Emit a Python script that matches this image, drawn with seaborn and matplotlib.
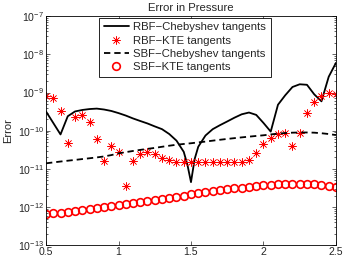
import matplotlib
matplotlib.use("Agg")
import matplotlib.pyplot as plt
import seaborn as sns
import pandas as pd
from matplotlib.ticker import LogLocator, FixedLocator, FixedFormatter

# x grid shared by markers and dashed line
x_vals = [0.50, 0.55, 0.60, 0.65, 0.70, 0.75, 0.80, 0.85, 0.90, 0.95,
          1.00, 1.05, 1.10, 1.15, 1.20, 1.25, 1.30, 1.35, 1.40, 1.45,
          1.50, 1.55, 1.60, 1.65, 1.70, 1.75, 1.80, 1.85, 1.90, 1.95,
          2.00, 2.05, 2.10, 2.15, 2.20, 2.25, 2.30, 2.35, 2.40, 2.45, 2.50]

# RBF-Chebyshev tangents (solid)
rbf_cheb_x = [0.50, 0.55, 0.60, 0.65, 0.70, 0.75, 0.80, 0.85, 0.90, 0.95,
              1.00, 1.05, 1.10, 1.15, 1.20, 1.25, 1.30, 1.35, 1.40, 1.45,
              1.475, 1.50, 1.525, 1.55, 1.60, 1.65, 1.70, 1.75, 1.80, 1.85,
              1.90, 1.95, 2.00, 2.05, 2.10, 2.15, 2.20, 2.25, 2.30, 2.35,
              2.40, 2.45, 2.50]
rbf_cheb = [3.2e-10, 1.6e-10, 8.0e-11, 2.4e-10, 3.2e-10, 3.5e-10, 3.7e-10, 3.8e-10, 3.6e-10, 3.3e-10,
            2.9e-10, 2.5e-10, 2.1e-10, 1.8e-10, 1.55e-10, 1.3e-10, 1.1e-10, 8.2e-11, 5.5e-11, 2.8e-11,
            1.3e-11, 4.5e-12, 1.8e-11, 3.8e-11, 7.5e-11, 1.1e-10, 1.4e-10, 1.75e-10, 2.2e-10, 2.7e-10,
            3.0e-10, 2.6e-10, 1.6e-10, 9.5e-11, 4.8e-10, 8.5e-10, 1.4e-9, 1.65e-9, 1.6e-9, 9.0e-10,
            5.9e-10, 2.6e-9, 6.0e-9]

# RBF-KTE tangents (asterisks)
rbf_kte = [8.1e-10, 7.4e-10, 3.2e-10, 4.7e-11, 2.3e-10, 2.6e-10, 1.7e-10, 6.0e-11, 1.6e-11, 4.0e-11,
           2.8e-11, 3.5e-12, 1.66e-11, 2.5e-11, 2.7e-11, 2.45e-11, 1.9e-11, 1.7e-11, 1.55e-11, 1.55e-11,
           1.55e-11, 1.55e-11, 1.55e-11, 1.55e-11, 1.55e-11, 1.55e-11, 1.55e-11, 1.5e-11, 1.75e-11, 2.6e-11,
           4.4e-11, 6.5e-11, 8.1e-11, 8.5e-11, 3.9e-11, 8.5e-11, 2.9e-10, 5.5e-10, 7.9e-10, 1.0e-9, 9.1e-10]

# SBF-Chebyshev tangents (dashed)
sbf_cheb = [1.40e-11, 1.48e-11, 1.56e-11, 1.64e-11, 1.72e-11, 1.81e-11, 1.90e-11, 2.00e-11, 2.12e-11, 2.30e-11,
            2.55e-11, 2.75e-11, 2.95e-11, 3.15e-11, 3.35e-11, 3.55e-11, 3.80e-11, 4.05e-11, 4.30e-11, 4.50e-11,
            4.70e-11, 4.95e-11, 5.20e-11, 5.50e-11, 5.80e-11, 6.10e-11, 6.40e-11, 6.70e-11, 7.00e-11, 7.30e-11,
            7.60e-11, 8.00e-11, 8.40e-11, 8.70e-11, 8.90e-11, 9.00e-11, 9.00e-11, 8.90e-11, 8.60e-11, 8.20e-11, 7.70e-11]

# SBF-KTE tangents (circles)
sbf_kte = [6.4e-13, 6.8e-13, 7.2e-13, 7.6e-13, 8.0e-13, 8.4e-13, 8.9e-13, 9.4e-13, 1.00e-12, 1.06e-12,
           1.13e-12, 1.20e-12, 1.27e-12, 1.34e-12, 1.42e-12, 1.50e-12, 1.60e-12, 1.72e-12, 1.85e-12, 2.00e-12,
           2.20e-12, 2.35e-12, 2.50e-12, 2.65e-12, 2.80e-12, 2.95e-12, 3.10e-12, 3.25e-12, 3.40e-12, 3.55e-12,
           3.70e-12, 3.85e-12, 3.95e-12, 4.05e-12, 4.10e-12, 4.10e-12, 4.05e-12, 3.95e-12, 3.80e-12, 3.60e-12, 3.35e-12]

x_ticks = [0.5, 1, 1.5, 2, 2.5]
x_tick_labels = ["0.5", "1", "1.5", "2", "2.5"]

sns.set_style("ticks")
plt.rcParams['font.family'] = ['Liberation Sans', 'DejaVu Sans']
plt.rcParams['mathtext.fontset'] = 'custom'
plt.rcParams['mathtext.rm'] = 'Liberation Sans'
plt.rcParams['font.size'] = 8

fig = plt.figure(figsize=(3.46, 2.62), dpi=100)
ax = fig.add_axes([0.133, 0.064, 0.838, 0.874])

df_line = pd.DataFrame({"x": rbf_cheb_x, "y": rbf_cheb})
df_pts = pd.DataFrame({"x": x_vals, "kte": rbf_kte, "sbf_cheb": sbf_cheb, "sbf_kte": sbf_kte})

sns.lineplot(data=df_line, x="x", y="y", ax=ax, color="black", linewidth=1.3,
             label="RBF\u2212Chebyshev tangents")
sns.lineplot(data=df_pts, x="x", y="kte", ax=ax, color="red", linestyle="",
             marker=(8, 2, 0), markersize=6, markeredgewidth=0.45,
             markeredgecolor="red", markerfacecolor="red",
             label="RBF\u2212KTE tangents")
sns.lineplot(data=df_pts, x="x", y="sbf_cheb", ax=ax, color="black", linewidth=1.3,
             linestyle=(0, (3.5, 2.2)), label="SBF\u2212Chebyshev tangents")
sns.lineplot(data=df_pts, x="x", y="sbf_kte", ax=ax, color="red", linestyle="",
             marker="o", markersize=5.5, markerfacecolor="none", markeredgecolor="red",
             markeredgewidth=1.2, label="SBF\u2212KTE tangents")

ax.set_yscale("log")
ax.set_xlim(0.5, 2.5)
ax.set_ylim(1e-13, 1e-7)
ax.yaxis.set_major_locator(LogLocator(base=10, numticks=10))
ax.yaxis.set_minor_locator(LogLocator(base=10, subs=range(2, 10), numticks=10))
ax.xaxis.set_major_locator(FixedLocator(x_ticks))
ax.xaxis.set_major_formatter(FixedFormatter(x_tick_labels))
ax.tick_params(which="both", direction="in", top=True, right=True, labelsize=7.6,
               width=0.5)
ax.tick_params(axis="y", pad=1.5)
ax.tick_params(axis="x", pad=1.2)
ax.tick_params(which="major", length=2.6)
ax.tick_params(which="minor", length=1.5)
for s in ax.spines.values():
    s.set_linewidth(0.6)
    s.set_color("black")

ax.set_title("Error in Pressure", fontsize=8.2, pad=4)
ax.set_xlabel("")
ax.set_ylabel("Error", fontsize=8)
ax.yaxis.set_label_coords(-0.112, 0.5)

leg = ax.legend(loc="upper center", bbox_to_anchor=(0.479, 0.993), fontsize=8.2,
                frameon=True, fancybox=False, edgecolor="black", framealpha=1,
                handlelength=2.2, borderpad=0.4, labelspacing=0.28, handletextpad=0.4,
                borderaxespad=0)
leg.get_frame().set_linewidth(0.6)

fig.savefig("out.png", dpi=100)
